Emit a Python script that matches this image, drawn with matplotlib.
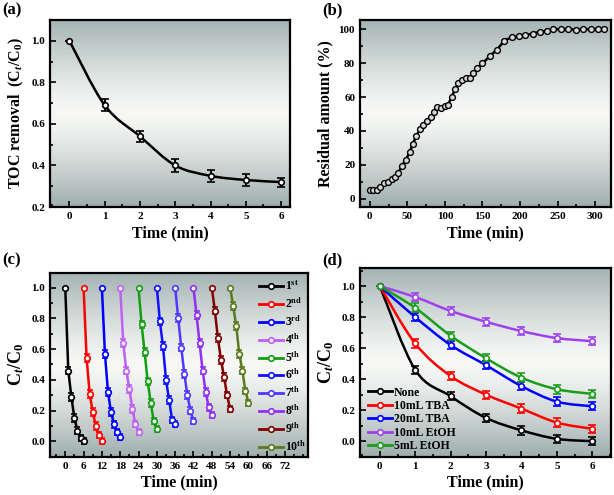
import numpy as np
import matplotlib
matplotlib.use('Agg')
import matplotlib.pyplot as plt
from matplotlib.path import Path
from matplotlib.patches import PathPatch
from matplotlib.lines import Line2D
from matplotlib.ticker import MultipleLocator

plt.rcParams['font.family'] = 'Liberation Serif'
plt.rcParams['font.weight'] = 'bold'
plt.rcParams['mathtext.fontset'] = 'custom'
plt.rcParams['mathtext.rm'] = 'Liberation Serif:bold'
plt.rcParams['mathtext.it'] = 'Liberation Serif:italic:bold'
plt.rcParams['mathtext.bf'] = 'Liberation Serif:bold'
plt.rcParams['axes.linewidth'] = 1.6

# (a) TOC removal
toc_time = [0, 1, 2, 3, 4, 5, 6]
toc_val = [1.0, 0.69, 0.54, 0.40, 0.35, 0.33, 0.32]
toc_err = [0.0, 0.03, 0.025, 0.03, 0.028, 0.028, 0.022]

# (b) residual amount
res_time = [0, 4.5, 9.5, 14, 19, 24, 29, 34, 38, 43, 48, 53, 57, 62, 67, 71, 76, 81, 85, 90,
            95, 100, 104, 109, 114, 118, 123, 128, 133, 138, 143, 150, 160, 169, 179, 189, 198,
            207, 217, 227, 236, 244, 254, 264, 274, 284, 294, 304, 312]
res_val = [5.1, 5.1, 5.1, 6.9, 8.9, 9.5, 11.5, 12.5, 15, 19.4, 23, 27.3, 32, 37, 41, 43.7, 46,
           48.4, 51, 53.8, 53.4, 54.5, 55.3, 60, 65, 68, 70, 71, 71.5, 74, 77, 79.8, 84.3, 87.8,
           93.3, 95.3, 95.8, 96.5, 97.5, 98.6, 98.8, 100, 100, 100, 99.8, 100, 100, 100, 100]

# (c) recycling runs
cycle_start = [0, 6, 12, 18, 24, 30, 36, 42, 48, 54]
cycle_steps = [0, 1, 2, 3, 4, 5, 6]
cycle_labels = [r'1$^{\mathrm{st}}$', r'2$^{\mathrm{nd}}$', r'3$^{\mathrm{rd}}$',
                r'4$^{\mathrm{th}}$', r'5$^{\mathrm{th}}$', r'6$^{\mathrm{th}}$',
                r'7$^{\mathrm{th}}$', r'8$^{\mathrm{th}}$', r'9$^{\mathrm{th}}$',
                r'10$^{\mathrm{th}}$']
cycle_colors = ['black', '#ff0000', '#0000ff', '#bf5ff5', '#129e12',
                '#1010ff', '#5038ff', '#9030f0', '#800000', '#5a7a1e']
cycle_values = [
    [1.0, 0.46, 0.29, 0.15, 0.07, 0.02, 0.0],
    [1.0, 0.54, 0.31, 0.19, 0.10, 0.04, 0.0],
    [1.0, 0.57, 0.32, 0.19, 0.11, 0.06, 0.03],
    [1.0, 0.64, 0.46, 0.34, 0.21, 0.11, 0.06],
    [1.0, 0.76, 0.58, 0.39, 0.25, 0.13, 0.08],
    [1.0, 0.78, 0.62, 0.40, 0.27, 0.14, 0.11],
    [1.0, 0.80, 0.61, 0.44, 0.30, 0.20, 0.13],
    [1.0, 0.82, 0.64, 0.46, 0.32, 0.22, 0.17],
    [1.0, 0.85, 0.67, 0.53, 0.42, 0.30, 0.21],
    [1.0, 0.88, 0.75, 0.57, 0.46, 0.33, 0.25],
]
cycle_err = [0.0, 0.025, 0.025, 0.025, 0.025, 0.02, 0.02]
cycle_ticks = [0, 6, 12, 18, 24, 30, 36, 42, 48, 54, 60, 66, 72]

# (d) scavenger experiments
scav_time = [0, 1, 2, 3, 4, 5, 6]
scav_labels = ['None', '10mL TBA', '20mL TBA', '10mL EtOH', '5mL EtOH']
scav_colors = ['black', '#ff0000', '#0000ff', '#a040f0', '#1a9e1a']
scav_values = [
    [1.0, 0.46, 0.29, 0.15, 0.07, 0.015, 0.0],
    [1.0, 0.63, 0.42, 0.30, 0.21, 0.12, 0.08],
    [1.0, 0.80, 0.62, 0.49, 0.355, 0.255, 0.225],
    [1.0, 0.93, 0.84, 0.77, 0.71, 0.665, 0.645],
    [1.0, 0.86, 0.68, 0.535, 0.41, 0.335, 0.305],
]
scav_err = [0.0, 0.028, 0.025, 0.025, 0.028, 0.028, 0.025]


def add_bg(ax):
    f = np.linspace(0, 1, 256)[:, None]
    top = np.array([0.64, 0.70, 0.70])
    mid = np.array([0.97, 0.975, 0.965])
    bot = np.array([0.62, 0.68, 0.68])
    w = np.clip(np.abs(f - 0.5) / 0.5, 0, 1) ** 1.3
    rgb = np.where(f < 0.5, mid * (1 - w) + top * w, mid * (1 - w) + bot * w)
    ax.imshow(rgb[:, None, :], extent=[0, 1, 0, 1], transform=ax.transAxes,
              aspect='auto', zorder=0, interpolation='bilinear')


def smooth_curve(ax, x, y, color, lw=1.8):
    x = np.asarray(x, float)
    y = np.asarray(y, float)
    n = len(x)
    verts = [(x[0], y[0])]
    codes = [Path.MOVETO]
    for i in range(n - 1):
        a = max(i - 1, 0)
        d = min(i + 2, n - 1)
        c1 = (x[i] + (x[i + 1] - x[a]) / 6, y[i] + (y[i + 1] - y[a]) / 6)
        c2 = (x[i + 1] - (x[d] - x[i]) / 6, y[i + 1] - (y[d] - y[i]) / 6)
        verts += [c1, c2, (x[i + 1], y[i + 1])]
        codes += [Path.CURVE4] * 3
    ax.add_patch(PathPatch(Path(verts, codes), fill=False, edgecolor=color, lw=lw, zorder=2))


def style(ax, xmaj, xmin, ymaj, ymin):
    ax.xaxis.set_major_locator(MultipleLocator(xmaj))
    ax.xaxis.set_minor_locator(MultipleLocator(xmin))
    ax.yaxis.set_major_locator(MultipleLocator(ymaj))
    ax.yaxis.set_minor_locator(MultipleLocator(ymin))
    ax.tick_params(which='both', direction='in', top=False, right=False, width=1.2)
    ax.tick_params(which='major', length=4, labelsize=8)
    ax.tick_params(which='minor', length=2.5)
    ax.set_xlabel('Time (min)', fontsize=11.5, fontweight='bold', labelpad=3)


fig = plt.figure(figsize=(6.14, 4.95), dpi=100)
ax_a = fig.add_axes([0.0814, 0.5818, 0.3908, 0.3778])
ax_b = fig.add_axes([0.5863, 0.5818, 0.4088, 0.3778])
ax_c = fig.add_axes([0.0814, 0.0774, 0.4202, 0.3711])
ax_d = fig.add_axes([0.5863, 0.0774, 0.4088, 0.3806])

# (a)
add_bg(ax_a)
smooth_curve(ax_a, toc_time, toc_val, 'black')
ax_a.errorbar(toc_time, toc_val, yerr=toc_err, fmt='o', ms=4, mfc='white', mec='black',
              mew=1.2, ecolor='black', elinewidth=1.5, capsize=3, capthick=1.5, zorder=3)
ax_a.set_xlim(-0.55, 6.25)
ax_a.set_ylim(0.2, 1.1)
style(ax_a, 1, 0.5, 0.2, 0.1)
ax_a.set_ylabel('TOC removal  (C$_t$/C$_0$)', fontsize=11.5, fontweight='bold')

# (b)
add_bg(ax_b)
ax_b.plot(res_time, res_val, '-o', color='black', lw=1.8, ms=4.2, mfc='#d8d8d8',
          mec='black', mew=1.0, zorder=3)
ax_b.set_xlim(-13, 321)
ax_b.set_ylim(-5, 105.5)
style(ax_b, 50, 25, 20, 10)
ax_b.set_ylabel('Residual amount (%)', fontsize=11.5, fontweight='bold')

# (c)
add_bg(ax_c)
for start, vals, col, lab in zip(cycle_start, cycle_values, cycle_colors, cycle_labels):
    t = [start + s for s in cycle_steps]
    ax_c.errorbar(t, vals, yerr=cycle_err, fmt='-o', color=col, lw=1.8, ms=4, mfc='white',
                  mec=col, mew=1.2, ecolor=col, elinewidth=1.4, capsize=2.5, capthick=1.4,
                  zorder=3, label=lab)
ax_c.set_xlim(-5, 79.5)
ax_c.set_ylim(-0.1, 1.095)
style(ax_c, 6, 3, 0.2, 0.1)
ax_c.set_xticks(cycle_ticks)
ax_c.set_ylabel('C$_t$/C$_0$', fontsize=13, fontweight='bold')
handles_c = [Line2D([], [], color=c, lw=2, marker='o', ms=4, mfc='white', mec=c, mew=1.2)
             for c in cycle_colors]
ax_c.legend(handles_c, cycle_labels, loc='center right', bbox_to_anchor=(1.02, 0.49),
            frameon=False, fontsize=8.5, handlelength=2.0, handletextpad=0.2,
            labelspacing=0.28, borderaxespad=0.2)

# (d)
add_bg(ax_d)
for vals, col in zip(scav_values, scav_colors):
    smooth_curve(ax_d, scav_time, vals, col)
    ax_d.errorbar(scav_time, vals, yerr=scav_err, fmt='o', ms=4, mfc='white', mec=col,
                  mew=1.2, ecolor=col, elinewidth=1.5, capsize=3, capthick=1.5, zorder=3)
ax_d.set_xlim(-0.56, 6.53)
ax_d.set_ylim(-0.1, 1.115)
style(ax_d, 1, 0.5, 0.2, 0.1)
ax_d.set_ylabel('C$_t$/C$_0$', fontsize=13, fontweight='bold')
handles_d = [Line2D([], [], color=c, lw=2, marker='o', ms=4, mfc='white', mec=c, mew=1.2)
             for c in scav_colors]
ax_d.legend(handles_d, scav_labels, loc='lower left', bbox_to_anchor=(0.0, -0.02),
            frameon=False, fontsize=8.5, handlelength=2.0, handletextpad=0.2,
            labelspacing=0.12, borderaxespad=0.3)

for lab, x, y in [('(a)', 0.003, 0.995), ('(b)', 0.525, 0.995),
                  ('(c)', 0.003, 0.49), ('(d)', 0.525, 0.49)]:
    fig.text(x, y, lab, fontsize=12, fontweight='bold', va='top', ha='left')

fig.savefig('out.png', dpi=100)
